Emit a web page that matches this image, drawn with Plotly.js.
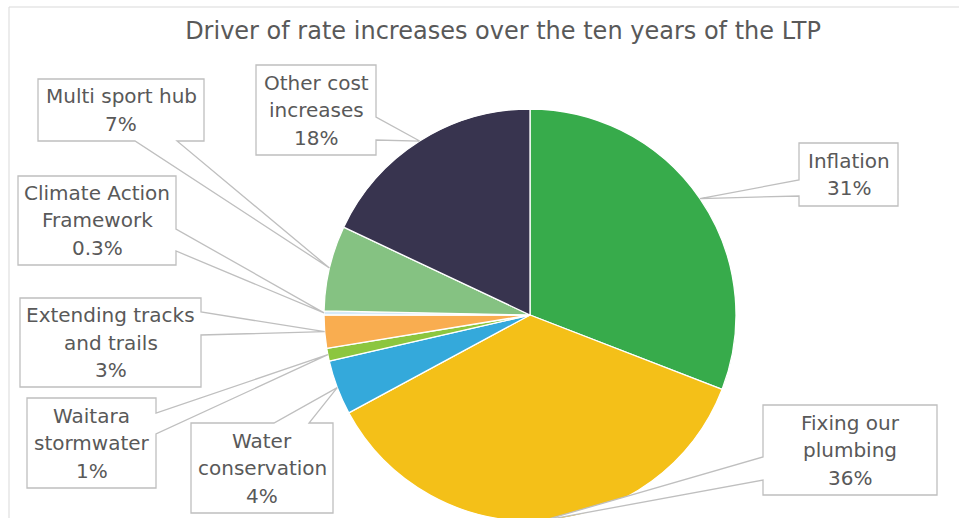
<!DOCTYPE html>
<html>
<head>
<meta charset="utf-8">
<script src="https://cdn.plot.ly/plotly-3.0.1.min.js"></script>
<style>
  html, body { margin: 0; padding: 0; background: #fff; overflow: hidden; }
  #wrap { width: 959px; height: 518px; overflow: hidden; position: relative; }
  #chart { width: 959px; height: 530px; }
</style>
</head>
<body>
<div id="wrap"><div id="chart"></div></div>
<script>
// ---- data ----
const categories = ["Inflation", "Fixing our plumbing", "Water conservation", "Waitara stormwater",
                    "Extending tracks and trails", "Climate Action Framework", "Multi sport hub", "Other cost increases"];
const values = [30.9, 36.25, 4.3, 1.0, 2.6, 0.3, 6.7, 18.0];
const labelLines = [["Inflation", "31%"], ["Fixing our", "plumbing", "36%"], ["Water", "conservation", "4%"],
                    ["Waitara", "stormwater", "1%"], ["Extending tracks", "and trails", "3%"],
                    ["Climate Action", "Framework", "0.3%"], ["Multi sport hub", "7%"], ["Other cost", "increases", "18%"]];
const colors = ["#37AB4B", "#F4C018", "#34A9DB", "#8CC63F", "#F9AD50", "#D6EAF8", "#85C282", "#38344F"];

// ---- layout geometry (pixels) ----
const W = 959, H = 530;
const CX = 530, CY = 315, R = 206;
const LINE_GAP = 27.5;

// callout boxes: [left, top, right, bottom], pointer side and the two base points along that side
const boxes = [
  {b: [799, 143, 898, 206], side: "left",   p: [180, 196]},
  {b: [763, 405, 937, 495], side: "left",   p: [457, 480]},
  {b: [191, 423, 333, 513], side: "top",    p: [274, 309]},
  {b: [27, 398, 156, 488],  side: "right",  p: [413, 434]},
  {b: [20, 298, 201, 387],  side: "right",  p: [312, 335]},
  {b: [18, 176, 176, 265],  side: "right",  p: [229, 251]},
  {b: [38, 79, 204, 141],   side: "bottom", p: [135, 177]},
  {b: [256, 65, 376, 155],  side: "right",  p: [117, 140]}
];

const px = x => x / W;
const py = y => 1 - y / H;

const total = values.reduce((a, b) => a + b, 0);
let cum = 0;
const tips = values.map(v => {
  const mid = (cum + v / 2) / total * 2 * Math.PI;
  cum += v;
  return [CX + R * Math.sin(mid), CY - R * Math.cos(mid)];
});

const shapes = [{
  type: "rect", xref: "paper", yref: "paper", layer: "below",
  x0: px(9), x1: px(975), y0: py(7), y1: py(560),
  line: {color: "#D9D9D9", width: 1}, fillcolor: "rgba(0,0,0,0)"
}];

const annotations = [];
boxes.forEach((bx, i) => {
  const [l, t, r, b] = bx.b;
  const [tx, ty] = tips[i];
  let pts;
  if (bx.side === "left") {
    pts = [[l, t], [r, t], [r, b], [l, b], [l, bx.p[1]], [tx, ty], [l, bx.p[0]]];
  } else if (bx.side === "right") {
    pts = [[l, t], [r, t], [r, bx.p[0]], [tx, ty], [r, bx.p[1]], [r, b], [l, b]];
  } else if (bx.side === "top") {
    pts = [[l, t], [bx.p[0], t], [tx, ty], [bx.p[1], t], [r, t], [r, b], [l, b]];
  } else {
    pts = [[l, t], [r, t], [r, b], [bx.p[1], b], [tx, ty], [bx.p[0], b], [l, b]];
  }
  const path = "M" + pts.map(p => px(p[0]).toFixed(5) + "," + py(p[1]).toFixed(5)).join(" L") + " Z";
  shapes.push({type: "path", xref: "paper", yref: "paper", path: path,
               fillcolor: "#FFFFFF", line: {color: "#BFBFBF", width: 1.3}, layer: "above"});
  const lines = labelLines[i];
  const n = lines.length;
  lines.forEach((txt, k) => {
    annotations.push({
      xref: "paper", yref: "paper", x: px((l + r) / 2),
      y: py((t + b) / 2 + (k - (n - 1) / 2) * LINE_GAP),
      xanchor: "center", yanchor: "middle", showarrow: false, align: "center",
      text: txt,
      font: {family: "DejaVu Sans", size: 20, color: "#595959"}
    });
  });
});

const trace = {
  type: "pie",
  labels: categories,
  values: values,
  sort: false,
  direction: "clockwise",
  rotation: 0,
  marker: {colors: colors, line: {color: "#FFFFFF", width: 1.3}},
  textinfo: "none",
  textposition: "none",
  hoverinfo: "none",
  showlegend: false,
  domain: {x: [px(CX - R), px(CX + R)], y: [py(CY + R), py(CY - R)]}
};

const layout = {
  width: W, height: H,
  margin: {l: 0, r: 0, t: 0, b: 0},
  paper_bgcolor: "#FFFFFF",
  showlegend: false,
  title: {
    text: "Driver of rate increases over the ten years of the LTP",
    font: {family: "DejaVu Sans", size: 24, color: "#595959"},
    x: 503 / W, xanchor: "center", xref: "paper",
    y: 1 - 31 / H, yanchor: "middle", yref: "container"
  },
  shapes: shapes,
  annotations: annotations
};

Plotly.newPlot("chart", [trace], layout, {staticPlot: true, displayModeBar: false});
</script>
</body>
</html>
